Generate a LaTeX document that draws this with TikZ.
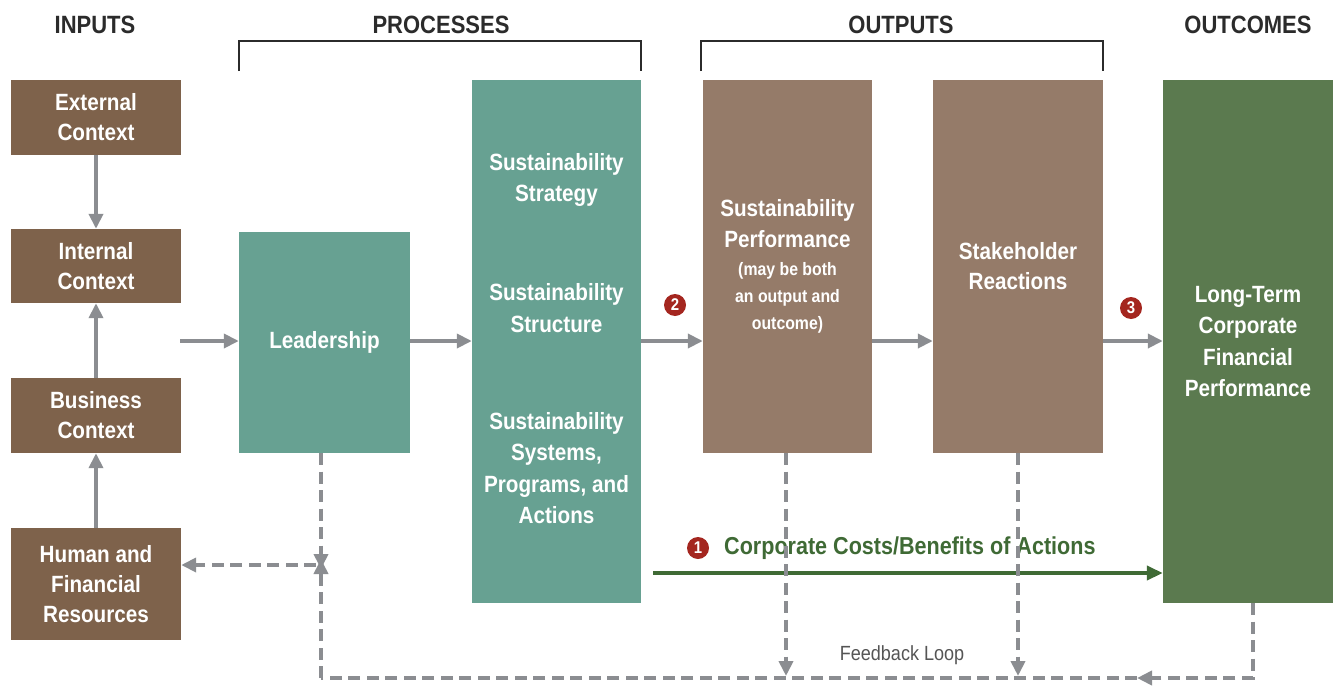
\documentclass[tikz,border=0pt]{standalone}
\usepackage{fontspec}
\setmainfont{Liberation Sans}[FakeStretch=0.88]
\usetikzlibrary{arrows.meta}
\definecolor{inbrown}{HTML}{7E624B}
\definecolor{outbrown}{HTML}{957B69}
\definecolor{tealg}{HTML}{67A192}
\definecolor{darkg}{HTML}{5B7A4F}
\definecolor{arrgray}{HTML}{8B8D91}
\definecolor{mkred}{HTML}{A4261F}
\definecolor{costg}{HTML}{3F6A35}
\definecolor{hdr}{HTML}{2B2B2B}
\newcommand\perfsm{\fontsize{18}{26.5}\selectfont}
\tikzset{
  box/.style={rectangle, inner sep=0pt, text=white, align=center,
    font=\bfseries\fontsize{23.5}{30}\selectfont},
  inbox/.style={box, fill=inbrown, minimum width=170pt},
  outbox/.style={box, fill=outbrown, minimum width=170pt},
  tealbox/.style={box, fill=tealg},
  boxtext/.style={text=white, align=center, inner sep=0pt,
    font=\bfseries\fontsize{23.5}{31.5}\selectfont},
  header/.style={text=hdr, font=\bfseries\fontsize{25}{28}\selectfont},
  flow/.style={draw=arrgray, line width=4pt, -{Triangle[length=15pt,width=14pt]}},
  fbline/.style={draw=arrgray, line width=4pt, dash pattern=on 12pt off 6.5pt},
  fbarrow/.style={fbline, -{Triangle[length=15pt,width=14pt]}},
  marker/.style={circle, fill=mkred, text=white, inner sep=0pt, minimum size=22pt,
    font=\bfseries\fontsize{17}{17}\selectfont},
  bracket/.style={draw=hdr, line width=2.5pt}
}
\begin{document}
\begin{tikzpicture}[x=1pt,y=-1pt]
\useasboundingbox (0,0) rectangle (1335,685);
% headers
\node[header] (hin) at (95,25) {INPUTS};
\node[header] (hproc) at (441,25) {PROCESSES};
\node[header] (hout) at (901,25) {OUTPUTS};
\node[header] (hoc) at (1248,25) {OUTCOMES};
% brackets
\coordinate (b1a) at (239,71); \coordinate (b1b) at (641,71);
\coordinate (b2a) at (701,71); \coordinate (b2b) at (1103,71);
\draw[bracket] (b1a) -- ++(0,-30) -| (b1b);
\draw[bracket] (b2a) -- ++(0,-30) -| (b2b);
% input boxes
\node[inbox, minimum height=75pt] (ext) at (96,117.5) {External\\Context};
\node[inbox, minimum height=74pt] (int) at (96,266) {Internal\\Context};
\node[inbox, minimum height=75pt] (bus) at (96,415.5) {Business\\Context};
\node[inbox, minimum height=112pt] (hum) at (96,584) {Human and\\Financial\\Resources};
% processes
\node[tealbox, minimum width=171pt, minimum height=221pt] (lead) at (324.5,342.5) {Leadership};
\node[tealbox, minimum width=169pt, minimum height=523pt] (sust) at (556.5,341.5) {};
\node[boxtext] (s1) at (556.5,180) {Sustainability\\Strategy};
\node[boxtext] (s2) at (556.5,308) {Sustainability\\Structure};
\node[boxtext] (s3) at (556.5,468) {Sustainability\\Systems,\\Programs, and\\Actions};
% outputs
\node[outbox, minimum width=169pt, minimum height=373pt,
  font=\bfseries\fontsize{23.5}{31}\selectfont] (perf) at (787.5,266.5)
  {Sustainability\\Performance\\[-3pt]\perfsm(may be both\\[-4pt]\perfsm an output and\\[-4pt]\perfsm outcome)};
\node[outbox, minimum height=373pt] (stake) at (1018,266.5) {Stakeholder\\Reactions};
% outcomes
\node[box, fill=darkg, minimum width=170pt, minimum height=523pt,
  font=\bfseries\fontsize{23.5}{31.5}\selectfont] (lt) at (1248,341.5)
  {Long-Term\\Corporate\\Financial\\Performance};
% input arrows
\draw[flow] (ext.south) -- (int.north);
\draw[flow] (bus.north) -- (int.south);
\draw[flow] (hum.north) -- (bus.south);
% main flow
\coordinate (inR) at (180,341);
\draw[flow] (inR) -- (lead.west |- inR);
\draw[flow] (lead.east |- inR) -- (sust.west |- inR);
\draw[flow] (sust.east |- inR) -- (perf.west |- inR);
\draw[flow] (perf.east |- inR) -- (stake.west |- inR);
\draw[flow] (stake.east |- inR) -- (lt.west |- inR);
% markers
\node[marker] (m2) at (675,305) {2};
\node[marker] (m3) at (1131,308) {3};
% costs arrow
\coordinate (cs) at (653,573);
\draw[draw=costg, line width=4.5pt, -{Triangle[length=16pt,width=14pt]}] (cs) -- (lt.west |- cs);
\node[marker] (m1) at (698,548) {1};
\node[anchor=west, text=costg, inner sep=0pt, font=\bfseries\fontsize{24.5}{28}\selectfont] (costs) at (724,548) {Corporate Costs/Benefits of Actions};
% feedback
\coordinate (j) at (321,565);
\coordinate (bl) at (321,678);
\coordinate (br) at (1253,678);
\coordinate (fbmid) at (1137,678);
\draw[fbarrow] (lead.south -| j) -- ([yshift=-4pt]j);
\draw[fbarrow] ([xshift=-5pt]j) -- (hum.east |- j);
\draw[fbarrow] (lt.south -| br) -- (br) -- (fbmid);
\draw[fbline] (fbmid) -- (bl);
\draw[fbarrow] (bl) -- ([yshift=6pt]j);
\draw[fbarrow] (perf.south -| 786,0) -- (786,676);
\draw[fbarrow] (stake.south -| 1018,0) -- (1018,676);
\node[text=hdr!80, inner sep=0pt, font=\fontsize{20.5}{22}\selectfont] (fbl) at (902,655) {Feedback Loop};
\end{tikzpicture}
\end{document}
